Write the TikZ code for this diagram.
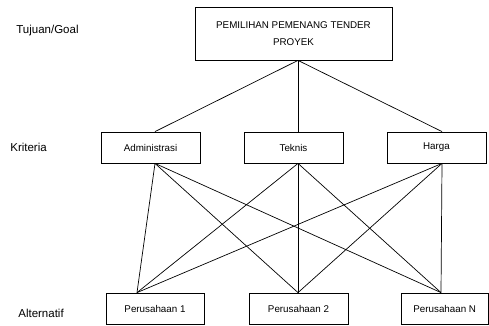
\documentclass[tikz,border=0pt]{standalone}
\usepackage{fontspec}
\setmainfont{Liberation Sans}
\usetikzlibrary{positioning}

\tikzset{
  kotak/.style={draw,line width=0.8pt,inner sep=0pt,minimum height=31pt,
    align=center,font=\fontsize{9.8}{17}\selectfont},
  tingkat/.style={anchor=west,inner sep=0pt,font=\fontsize{11.5}{13}\selectfont}
}

\begin{document}
\begin{tikzpicture}[x=1pt,y=1pt,line width=0.7pt]
  \useasboundingbox (0,0) rectangle (489,325);

  % level labels
  \node[tingkat] (lgoal) at (16,294) {Tujuan/Goal};
  \node[tingkat] (lkrit) at (10,178) {Kriteria};
  \node[tingkat] (lalt) at (18,12) {Alternatif};

  % goal
  \node[kotak,minimum width=197pt,minimum height=53pt] (goal) at (293.5,291.5)
    {PEMILIHAN PEMENANG TENDER\\PROYEK};

  % criteria
  \node[kotak,minimum width=99pt] (adm) at (150.5,177.5) {Administrasi};
  \node[kotak,minimum width=99pt] (tek) at (293.5,177.5) {Teknis};
  \node[kotak,minimum width=99pt] (hrg) at (436.5,177.5) {Harga};

  % alternatives
  \node[kotak,minimum width=98pt] (p1) at (155,16.5) {Perusahaan 1};
  \node[kotak,minimum width=99pt] (p2) at (298.5,16.5) {Perusahaan 2};
  \node[kotak,minimum width=87.5pt] (pn) at (444.75,16.5) {Perusahaan N};

  % connection points
  \coordinate (g) at ([xshift=4.5pt]goal.south);
  \coordinate (admT) at ([xshift=4.5pt]adm.north);
  \coordinate (admB) at ([xshift=4.5pt]adm.south);
  \coordinate (tekT) at ([xshift=4.5pt]tek.north);
  \coordinate (tekB) at ([xshift=4.5pt]tek.south);
  \coordinate (hrgT) at ([xshift=5.5pt]hrg.north);
  \coordinate (hrgB) at ([xshift=5.5pt]hrg.south);
  \coordinate (p1T) at ([xshift=-18pt]p1.north);
  \coordinate (p2T) at ([xshift=-0.5pt]p2.north);
  \coordinate (pnT) at ([xshift=-3.75pt]pn.north);

  \foreach \k in {admT,tekT,hrgT}
    \draw (g) -- (\k);
  \foreach \k in {admB,tekB,hrgB}
  {
    \foreach \a in {p1T,p2T,pnT}
      \draw (\k) -- (\a);
  }
\end{tikzpicture}
\end{document}
